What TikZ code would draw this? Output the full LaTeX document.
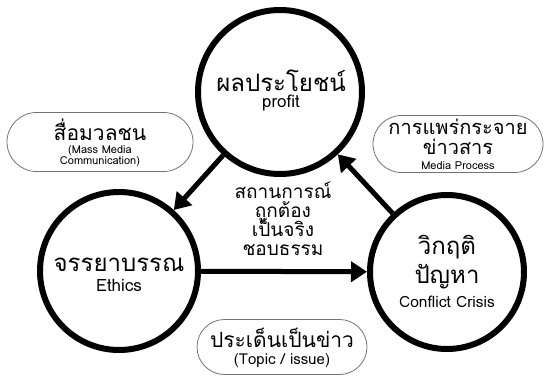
\documentclass[tikz,border=0pt]{standalone}
\usepackage{fontspec}
\setmainfont{Loma}[Script=Thai]
\usetikzlibrary{shapes,arrows.meta,positioning,calc}

\begin{document}
\begin{tikzpicture}[x=1pt, y=-1pt,
    stage/.style={draw, circle, line width=6pt, minimum size=158pt, inner sep=0pt},
    tag/.style={draw=black!55, rounded rectangle, line width=0.8pt, minimum width=170pt, minimum height=57pt, inner sep=0pt},
    flow/.style={-{Triangle[length=16pt,width=20pt]}, line width=5pt},
    thbig/.style={anchor=base, inner sep=0pt, font=\fontsize{24}{26}\selectfont},
    thmid/.style={anchor=base, inner sep=0pt, font=\fontsize{20}{22}\selectfont},
    en/.style={anchor=base, inner sep=0pt, font=\fontsize{17}{18}\selectfont},
    ensmall/.style={anchor=base, inner sep=0pt, font=\fontsize{11}{12}\selectfont}]
    \useasboundingbox (0,0) rectangle (552,380);

    % circles
    \node (profit) [stage, minimum size=164pt] at (280,92) {};
    \node (ethics) [stage] at (119,271) {};
    \node (crisis) [stage, minimum size=154pt] at (447,272) {};

    \node (profitth) [thbig] at (281,91) {ผลประโยชน์};
    \node (profiten) [en] at (281,107) {profit};
    \node (ethicsth) [thbig] at (119,271) {จรรยาบรรณ};
    \node (ethicsen) [en] at (119,291) {Ethics};
    \node (crisisth) [thbig] at (447,254) {วิกฤติ};
    \node (problemth) [thbig] at (447,283) {ปัญหา};
    \node (crisisen) [en, font=\fontsize{15.5}{17}\selectfont] at (447,307) {Conflict Crisis};

    % rounded boxes
    \node (media) [tag, minimum width=186pt, minimum height=59pt] at (100,142) {};
    \node (process) [tag] at (458,144) {};
    \node (topic) [tag, minimum height=55pt] at (282,347) {};

    \node (mediath) [thmid, font=\fontsize{21}{22}\selectfont] at (100,140) {สื่อมวลชน};
    \node (mediaen1) [ensmall] at (100,153) {(Mass Media};
    \node (mediaen2) [ensmall] at (100,164) {Communication)};
    \node (processth1) [thmid] at (458,134) {การแพร่กระจาย};
    \node (processth2) [thmid] at (458,154) {ข่าวสาร};
    \node (processen) [ensmall] at (458,169) {Media Process};
    \node (topicth) [thmid, font=\fontsize{21}{22}\selectfont] at (282,347) {ประเด็นเป็นข่าว};
    \node (topicen) [en, font=\fontsize{15}{17}\selectfont] at (282,364) {(Topic / issue)};

    % middle text
    \foreach \word [count=\i] in {สถานการณ์, ถูกต้อง, เป็นจริง, ชอบธรรม}
        \node (situation\i) [thmid, font=\fontsize{19}{20}\selectfont] at (283,{178.7+19.3*\i}) {\word};

    \draw [flow] (profit) -- (ethics);
    \draw [flow] (ethics) -- (crisis);
    \draw [flow] (crisis) -- (profit);
\end{tikzpicture}
\end{document}
